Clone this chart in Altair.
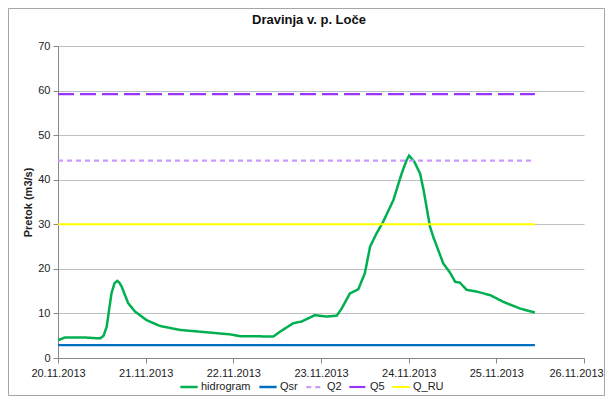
import altair as alt
import pandas as pd

# ---- data ----
start = pd.Timestamp("2013-11-20 00:00")

hydro_days = [0.0, 0.08, 0.30, 0.48, 0.52, 0.555, 0.61, 0.645, 0.676, 0.70, 0.727, 0.80,
              0.88, 1.01, 1.16, 1.39, 1.62, 1.85, 1.962, 2.08, 2.19, 2.456, 2.532,
              2.684, 2.78, 2.93, 3.065, 3.18, 3.236, 3.33, 3.425, 3.50, 3.56, 3.635,
              3.71, 3.825, 3.92, 3.977, 4.004, 4.06, 4.13, 4.17, 4.243, 4.28, 4.395,
              4.47, 4.53, 4.585, 4.66, 4.776, 4.93, 5.08, 5.27, 5.44]
hydro_vals = [4.0, 4.6, 4.6, 4.4, 5.0, 7.0, 14.5, 16.8, 17.3, 16.9, 16.0, 12.3,
              10.4, 8.5, 7.2, 6.3, 5.9, 5.5, 5.3, 4.9, 4.9, 4.8, 5.9,
              7.8, 8.2, 9.6, 9.3, 9.5, 11.1, 14.5, 15.4, 19.0, 25.0, 28.0,
              30.6, 35.4, 41.4, 44.4, 45.4, 44.2, 41.4, 37.7, 29.5, 27.2, 21.2,
              19.2, 17.1, 16.9, 15.3, 14.9, 14.1, 12.6, 11.1, 10.2]

series_names = ["hidrogram", "Qsr", "Q2", "Q5", "Q_RU"]
series_colors = ["#00B050", "#0070C0", "#CC99FF", "#9933FF", "#FFFF00"]
series_dash = [[1, 0], [1, 0], [5, 4], [16, 6], [1, 0]]
series_width = [2.5, 2, 2, 2.5, 2]
ref_names = ["Qsr", "Q2", "Q5", "Q_RU"]
ref_values = [2.9, 44.3, 59.2, 30.0]
ref_span_days = [0.0, 5.44]

x_tick_days = ["2013-11-20", "2013-11-21", "2013-11-22", "2013-11-23",
               "2013-11-24", "2013-11-25", "2013-11-26"]

# ---- build table ----
rows = []
for d, v in zip(hydro_days, hydro_vals):
    rows.append({"t": start + pd.Timedelta(days=d), "Q": v, "s": "hidrogram"})
for n, v in zip(ref_names, ref_values):
    for d in ref_span_days:
        rows.append({"t": start + pd.Timedelta(days=d), "Q": v, "s": n})
df = pd.DataFrame(rows)
df["t"] = df["t"].dt.strftime("%Y-%m-%dT%H:%M:%S")

def dt(s):
    y, m, d = [int(p) for p in s.split("-")]
    return alt.DateTime(year=y, month=m, date=d)

FONT = "Liberation Sans"

last_label_test = "month(datum.value) == 10 && date(datum.value) == 26"

lines = alt.Chart(df).mark_line(clip=True).encode(
    x=alt.X("t:T",
            scale=alt.Scale(domain=[dt(x_tick_days[0]), dt(x_tick_days[-1])]),
            axis=alt.Axis(values=[dt(s) for s in x_tick_days], format="%d.%m.%Y",
                          title=None, grid=False, labelFont=FONT, labelFontSize=11,
                          labelColor="#222", domainColor="#888", tickColor="#888",
                          tickSize=5, labelPadding=4, labelFlush=False, labelOverlap=False,
                          labelOffset={"condition": {"test": last_label_test, "value": -8},
                                       "value": 0})),
    y=alt.Y("Q:Q",
            scale=alt.Scale(domain=[0, 70], nice=False),
            axis=alt.Axis(values=list(range(0, 71, 10)), title="Pretok (m3/s)",
                          titleFont=FONT, titleFontSize=11, titleFontWeight="bold",
                          titleColor="#222", titlePadding=4,
                          labelFont=FONT, labelFontSize=11, labelColor="#222",
                          gridColor="#BFBFBF", gridWidth=1, domainColor="#888",
                          tickColor="#888", tickSize=5, labelPadding=3)),
    color=alt.Color("s:N", scale=alt.Scale(domain=series_names, range=series_colors),
                    legend=alt.Legend(title=None, orient="none", direction="horizontal",
                                      legendX=121, legendY=331, symbolType="stroke",
                                      symbolSize=300, symbolStrokeWidth=2,
                                      labelFont=FONT, labelFontSize=11, labelColor="#222",
                                      columnPadding=3, symbolOffset=0, labelOffset=2)),
    strokeDash=alt.StrokeDash("s:N", scale=alt.Scale(domain=series_names, range=series_dash),
                              legend=None),
    strokeWidth=alt.StrokeWidth("s:N", scale=alt.Scale(domain=series_names, range=series_width),
                                legend=None),
    order=alt.Order("s:N"),
)

frame = alt.Chart(pd.DataFrame({"a": [0]})).mark_rect(
    fill="transparent", stroke="#A6A6A6", strokeWidth=1
).encode(
    x=alt.value(-49.5), x2=alt.value(546.5), y=alt.value(-37.5), y2=alt.value(349.5)
)

chart = alt.layer(frame, lines).properties(
    width=526, height=312,
    title=alt.Title("Dravinja v. p. Loče", font=FONT, fontSize=13, fontWeight="bold",
                    color="#111", offset=10, dx=-12, dy=29),
    autosize=alt.AutoSizeParams(type="none"),
    padding={"left": 50, "top": 38, "right": 21, "bottom": 39},
).configure_view(strokeWidth=0)

chart.save("out.html", embed_options={"renderer": "svg", "actions": False})
